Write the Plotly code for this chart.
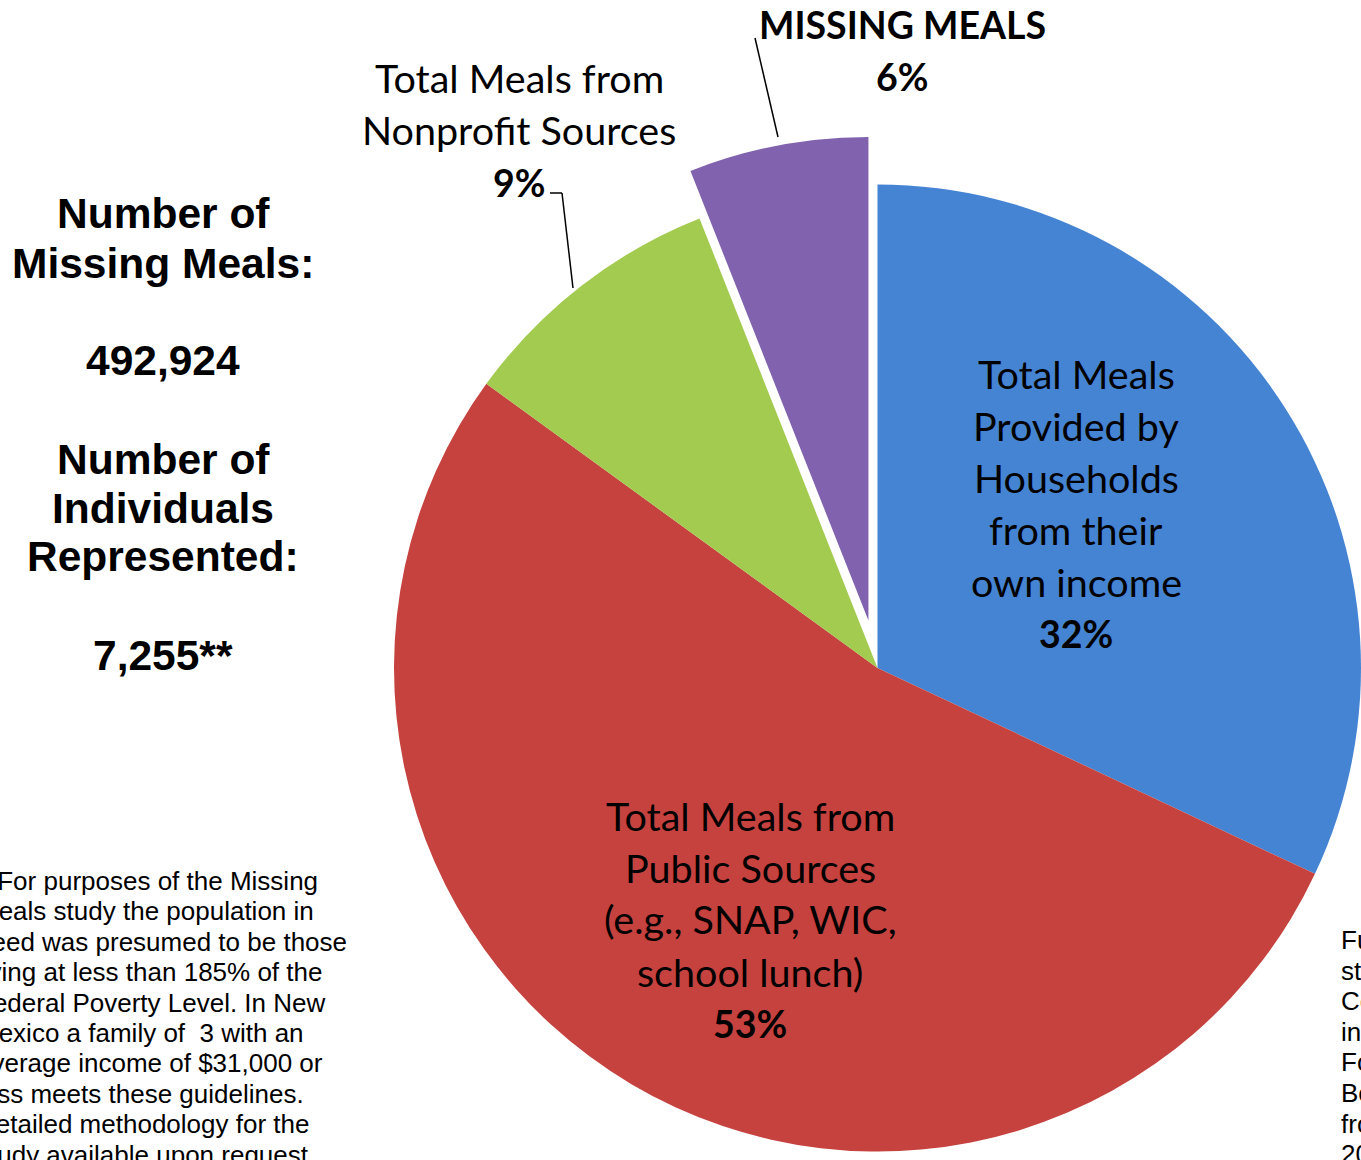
import math
import plotly.graph_objects as go

W, H = 1361, 1160

# ---- data ----
categories = ["Total Meals Provided by Households from their own income",
              "Total Meals from Public Sources (e.g., SNAP, WIC, school lunch)",
              "Total Meals from Nonprofit Sources",
              "MISSING MEALS"]
shares = [32, 53, 9, 6]
colors = ["#4584D3", "#C6423E", "#A2CB4F", "#8062AE"]

left_lines = ["Number of", "Missing Meals:", "", "492,924", "", "Number of",
              "Individuals", "Represented:", "", "7,255**"]
footnote_left = ["**For purposes of the Missing",
                 "Meals study the population in",
                 "need was presumed to be those",
                 "living at less than 185% of the",
                 "Federal Poverty Level. In New",
                 "Mexico a family of  3 with an",
                 "average income of $31,000 or",
                 "less meets these guidelines.",
                 "Detailed methodology for the",
                 "study available upon request."]
footnote_right = ["Funding for this", "study provided by", "Con Alma Health",
                  "in partnership with", "Food Depot and", "Bernalillo County",
                  "from the Missing", "2012 report."]


def px(x, y):
    return x / W, 1 - y / H


# main pie geometry (pixels)
cx, cy, r = 877.5, 668, 483.5
pull = 0.1
mid = math.radians(360 - shares[3] / 2 * 3.6)
dx, dy = math.sin(mid) * pull * r, -math.cos(mid) * pull * r

fig = go.Figure()
fig.add_trace(go.Pie(
    labels=categories, values=shares, sort=False, direction="clockwise",
    marker=dict(colors=colors[:3] + ["rgba(0,0,0,0)"], line=dict(width=0)),
    textinfo="none", hoverinfo="label+percent", showlegend=False,
    domain=dict(x=[(cx - r) / W, (cx + r) / W],
                y=[1 - (cy + r) / H, 1 - (cy - r) / H]),
))
fig.add_trace(go.Pie(
    labels=categories, values=shares, sort=False, direction="clockwise",
    marker=dict(colors=["rgba(0,0,0,0)"] * 3 + [colors[3]], line=dict(width=0)),
    textinfo="none", hoverinfo="label+percent", showlegend=False,
    domain=dict(x=[(cx + dx - r) / W, (cx + dx + r) / W],
                y=[1 - (cy + dy + r) / H, 1 - (cy + dy - r) / H]),
))

ann = []
CAL = "Lato, 'Open Sans', sans-serif"
ARIAL = "'Liberation Sans', Arial, sans-serif"


def text(x, y, s, size, font, bold=False, xanchor="center"):
    X, Y = px(x, y)
    ann.append(dict(x=X, y=Y, xref="paper", yref="paper", text=(f"<b>{s}</b>" if bold else s),
                    showarrow=False, xanchor=xanchor, yanchor="middle",
                    font=dict(family=font, size=size, color="#000000")))


REG = 39.5
BOLD = 37.5

# slice labels
blue_lines = ["Total Meals", "Provided by", "Households", "from their", "own income"]
for i, s in enumerate(blue_lines):
    text(1076, 373 + 52 * i, s, REG, CAL)
text(1076, 633, f"{shares[0]}%", BOLD, CAL, bold=True)

red_lines = ["Total Meals from", "Public Sources", "(e.g., SNAP, WIC,", "school lunch)"]
for i, s in enumerate(red_lines):
    text(750, 815 + 52 * i, s, REG, CAL)
text(750, 1023, f"{shares[1]}%", BOLD, CAL, bold=True)

text(519, 78, "Total Meals from", REG, CAL)
text(519, 130, "Nonprofit Sources", REG, CAL)
text(519, 182, f"{shares[2]}%", BOLD, CAL, bold=True)

text(902, 24, "MISSING MEALS", BOLD, CAL, bold=True)
text(902, 76, f"{shares[3]}%", BOLD, CAL, bold=True)

# left summary
ly = [214, 263, None, 361, None, 459, 508, 557, None, 655]
for s, y in zip(left_lines, ly):
    if s:
        text(163, y, s, 42.5, ARIAL, bold=True)

for i, s in enumerate(footnote_left):
    text(-25, 881 + 30.4 * i, s, 26, ARIAL, xanchor="left")
for i, s in enumerate(footnote_right):
    text(1339, 940 + 30.6 * i, s, 26, ARIAL, xanchor="left")

shapes = [
    dict(type="line", xref="paper", yref="paper",
         x0=px(755, 38)[0], y0=px(755, 38)[1], x1=px(778, 137)[0], y1=px(778, 137)[1],
         line=dict(color="black", width=1.5)),
    dict(type="line", xref="paper", yref="paper",
         x0=px(550, 193)[0], y0=px(550, 193)[1], x1=px(562, 193)[0], y1=px(562, 193)[1],
         line=dict(color="black", width=1.5)),
    dict(type="line", xref="paper", yref="paper",
         x0=px(562, 193)[0], y0=px(562, 193)[1], x1=px(573, 288)[0], y1=px(573, 288)[1],
         line=dict(color="black", width=1.5)),
]

fig.update_layout(width=W, height=H, margin=dict(l=0, r=0, t=0, b=0),
                  paper_bgcolor="white", plot_bgcolor="white",
                  annotations=ann, shapes=shapes)
fig.write_html("out.html", config={"displayModeBar": False},
               post_script="document.body.style.margin='0';document.body.style.overflow='hidden';")
